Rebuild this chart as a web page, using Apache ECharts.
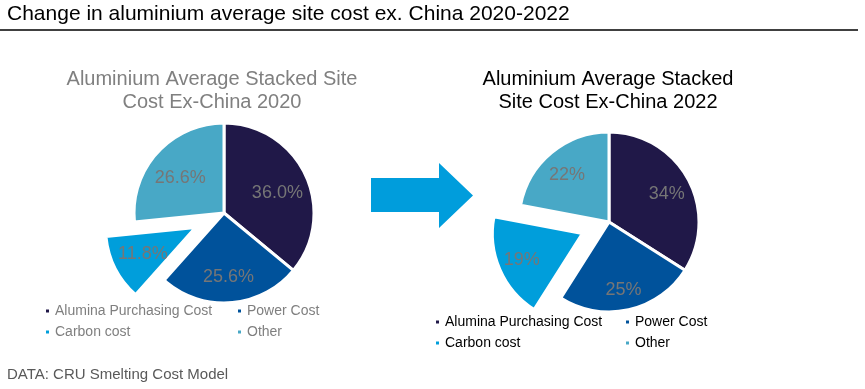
<!DOCTYPE html>
<html>
<head>
<meta charset="utf-8">
<script src="https://cdn.jsdelivr.net/npm/echarts@6/dist/echarts.min.js"></script>
<style>
html,body{margin:0;padding:0;background:#fff;}
#chart{width:865px;height:389px;}
</style>
</head>
<body>
<div id="chart"></div>
<script>
// ---- data ----
const categories = ['Alumina Purchasing Cost', 'Power Cost', 'Carbon cost', 'Other'];
const values2020 = [36.0, 25.6, 11.8, 26.6];
const values2022 = [34, 25, 19, 22];
const explodedCategory = 'Carbon cost';
const mainTitle = 'Change in aluminium average site cost ex. China 2020-2022';
const title2020 = 'Aluminium Average Stacked Site\nCost Ex-China 2020';
const title2022 = 'Aluminium Average Stacked\nSite Cost Ex-China 2022';
const sourceText = 'DATA: CRU Smelting Cost Model';
const colors = ['#201848', '#00529B', '#009EDB', '#48A8C6'];

const FONT = "'Liberation Sans', Arial, sans-serif";

function pieData(values) {
  return categories.map((c, i) => ({ name: c, value: values[i], selected: c === explodedCategory }));
}

function piePair(values, center, radius, labelRadius, offset, decimals, labelSize, labelDy) {
  const base = {
    type: 'pie',
    center: center,
    startAngle: 90,
    clockwise: true,
    selectedMode: 'single',
    selectedOffset: offset,
    avoidLabelOverlap: false,
    emphasis: { disabled: true },
    labelLine: { show: false },
    data: pieData(values),
    animation: false
  };
  const shapes = Object.assign({}, base, {
    radius: [0, radius],
    color: colors,
    itemStyle: { borderColor: '#ffffff', borderWidth: 3 },
    select: { itemStyle: { borderColor: '#ffffff', borderWidth: 3 } },
    label: { show: false }
  });
  const labels = Object.assign({}, base, {
    radius: [0, labelRadius],
    silent: true,
    z: 5,
    color: colors,
    itemStyle: { color: 'rgba(0,0,0,0)', borderWidth: 0 },
    select: { itemStyle: { color: 'rgba(0,0,0,0)', borderWidth: 0 } },
    label: {
      show: true,
      position: 'inside',
      color: '#767676',
      fontFamily: FONT,
      fontSize: labelSize,
      textBorderWidth: 0,
      offset: [0, labelDy],
      formatter: p => p.value.toFixed(decimals) + '%'
    }
  });
  return [shapes, labels];
}

function legendFor(left, top, textColor, textWidth) {
  return {
    left: left,
    top: top,
    width: 400,
    orient: 'horizontal',
    padding: 0,
    itemGap: 5,
    itemWidth: 5,
    itemHeight: 5,
    icon: 'rect',
    selectedMode: false,
    data: categories.map((c, i) => ({ name: c, itemStyle: { color: colors[i] } })),
    textStyle: {
      color: textColor,
      fontFamily: FONT,
      fontSize: 14,
      lineHeight: 16,
      width: textWidth
    }
  };
}

const chart = echarts.init(document.getElementById('chart'), null, { renderer: 'canvas' });

const option = {
  animation: false,
  backgroundColor: '#ffffff',
  title: [
    {
      text: mainTitle, left: 7, top: 4, padding: 0,
      textStyle: { fontFamily: FONT, fontSize: 21, fontWeight: 'normal', color: '#000000' }
    },
    {
      text: title2020, left: 212, top: 68, padding: 0, textAlign: 'center',
      textStyle: { fontFamily: FONT, fontSize: 20, lineHeight: 23, fontWeight: 'normal', color: '#808080', align: 'center' }
    },
    {
      text: title2022, left: 608, top: 68, padding: 0, textAlign: 'center',
      textStyle: { fontFamily: FONT, fontSize: 20, lineHeight: 23, fontWeight: 'normal', color: '#000000', align: 'center' }
    },
    {
      text: sourceText, left: 7, top: 367, padding: 0,
      textStyle: { fontFamily: FONT, fontSize: 15, fontWeight: 'normal', color: '#595959' }
    }
  ],
  legend: [
    legendFor(44, 303, '#7F7F7F', 176),
    legendFor(434, 314, '#000000', 174)
  ],
  graphic: [
    {
      type: 'line',
      shape: { x1: 0, y1: 30, x2: 858, y2: 30 },
      style: { stroke: '#000000', lineWidth: 1.5 },
      silent: true
    },
    {
      type: 'polygon',
      shape: { points: [[371, 178], [439, 178], [439, 163], [473, 195.5], [439, 228], [439, 212], [371, 212]] },
      style: { fill: '#009DDC' },
      silent: true
    }
  ],
  series: [].concat(
    piePair(values2020, [224, 213], 90, 112, 32, 1, 18, 5),
    piePair(values2022, [609, 222], 90, 126, 29, 0, 18, 4)
  )
};

chart.setOption(option);
</script>
</body>
</html>
